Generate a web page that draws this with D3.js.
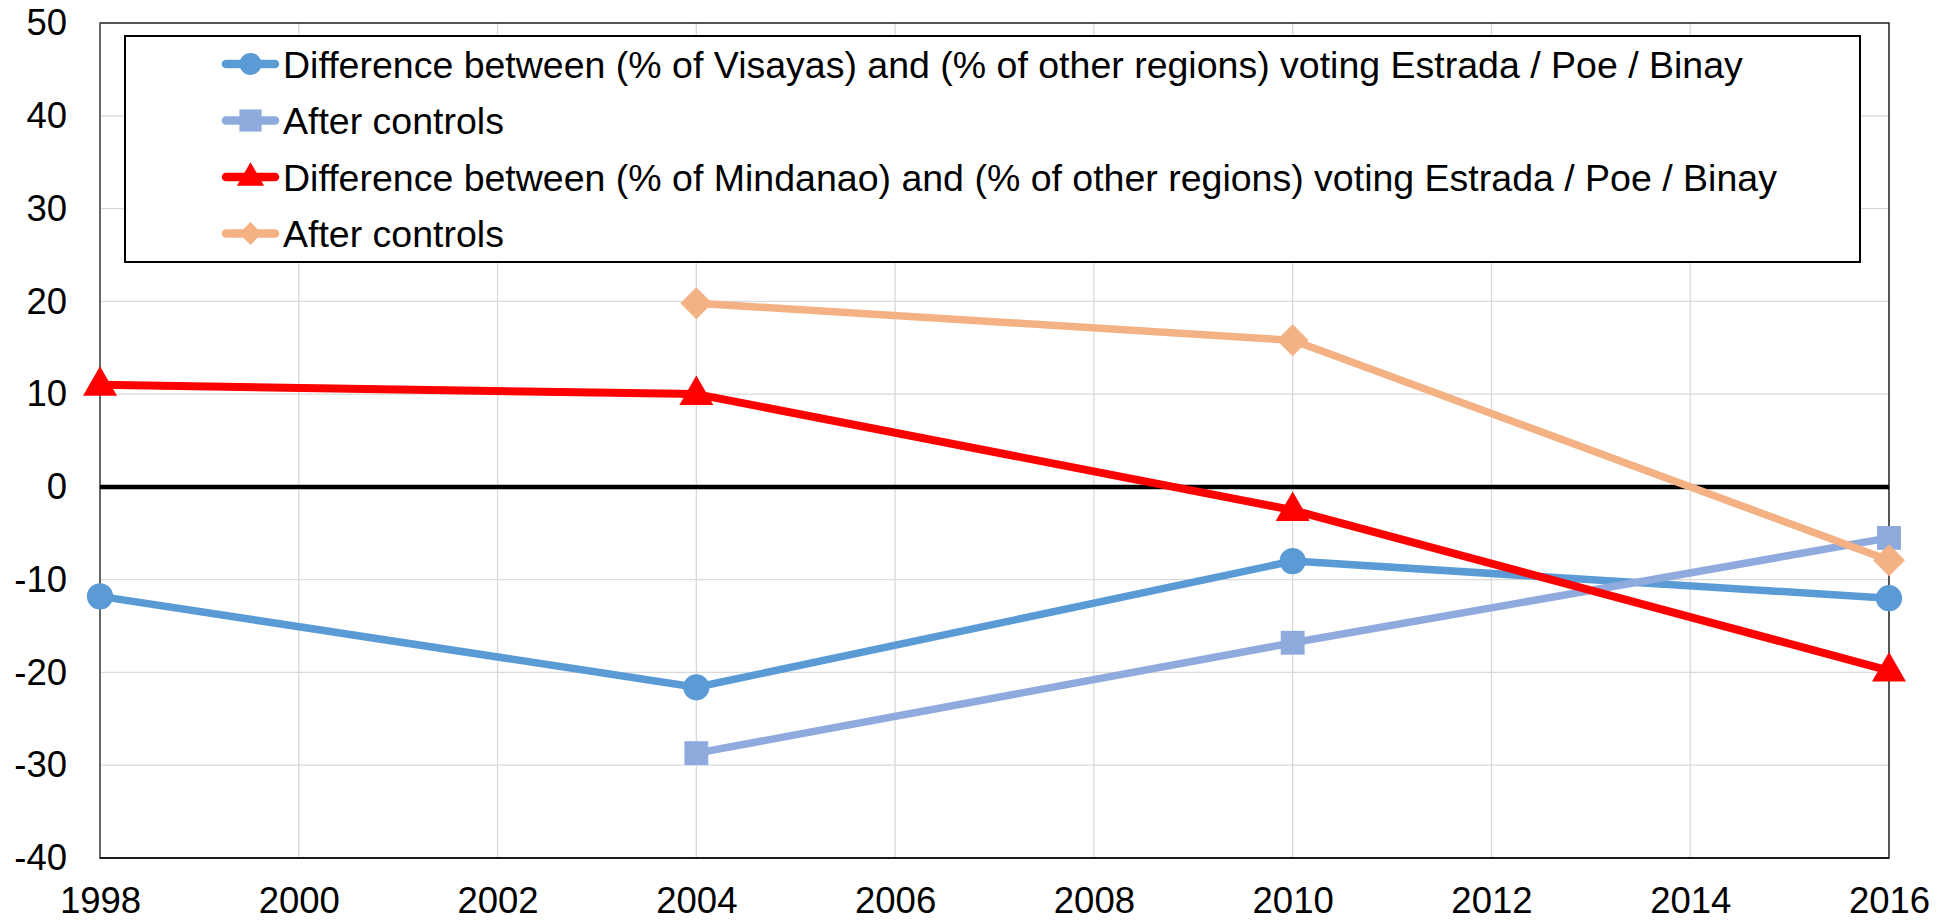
<!DOCTYPE html>
<html>
<head>
<meta charset="utf-8">
<script src="https://cdn.jsdelivr.net/npm/d3@7"></script>
<style>
  body{margin:0;background:#fff;}
  svg text{font-family:"Liberation Sans",Arial,sans-serif;fill:#000;}
</style>
</head>
<body>
<div id="chart"></div>
<script>
// values
var years=[1998,2004,2010,2016];
var visayas=[-11.8,-21.6,-8.0,-12.0];
var visayasControls=[null,-28.7,-16.8,-5.5];
var mindanao=[11.0,10.0,-2.5,-19.8];
var mindanaoControls=[null,19.8,15.8,-7.9];
var xTicks=[1998,2000,2002,2004,2006,2008,2010,2012,2014,2016];
var yTicks=[-40,-30,-20,-10,0,10,20,30,40,50];
var seriesNames=[
  "Difference between (% of Visayas) and (% of other regions) voting Estrada / Poe / Binay",
  "After controls",
  "Difference between (% of Mindanao) and (% of other regions) voting Estrada / Poe / Binay",
  "After controls"
];

var W=1951,H=921;
var margin={top:23,right:62,bottom:63,left:100};
var width=W-margin.left-margin.right;
var height=H-margin.top-margin.bottom;

var series=[
  {name:seriesNames[0],values:visayas,color:"#5B9BD5",marker:"circle"},
  {name:seriesNames[1],values:visayasControls,color:"#8FAADC",marker:"square"},
  {name:seriesNames[2],values:mindanao,color:"#FF0000",marker:"triangle"},
  {name:seriesNames[3],values:mindanaoControls,color:"#F4B183",marker:"diamond"}
];

var svg=d3.select("#chart").append("svg")
  .attr("width",W).attr("height",H);
var g=svg.append("g").attr("transform","translate("+margin.left+","+margin.top+")");

var x=d3.scaleLinear().domain([1998,2016]).range([0,width]);
var y=d3.scaleLinear().domain([-40,50]).range([height,0]);

// grid
g.selectAll(".hgrid").data(yTicks).enter().append("line")
  .attr("x1",0).attr("x2",width)
  .attr("y1",function(d){return y(d)}).attr("y2",function(d){return y(d)})
  .attr("stroke","#d9d9d9").attr("stroke-width",1.3);
g.selectAll(".vgrid").data(xTicks).enter().append("line")
  .attr("y1",0).attr("y2",height)
  .attr("x1",function(d){return x(d)}).attr("x2",function(d){return x(d)})
  .attr("stroke","#d9d9d9").attr("stroke-width",1.3);

// frame
g.append("rect").attr("x",0).attr("y",0).attr("width",width).attr("height",height)
  .attr("fill","none").attr("stroke","#262626").attr("stroke-width",1.5);
g.append("line").attr("x1",0).attr("x2",0).attr("y1",0).attr("y2",height)
  .attr("stroke","#666").attr("stroke-width",2);
g.append("line").attr("x1",0).attr("x2",width).attr("y1",height).attr("y2",height)
  .attr("stroke","#1a1a1a").attr("stroke-width",2);

// zero line
g.append("line").attr("x1",0).attr("x2",width).attr("y1",y(0)).attr("y2",y(0))
  .attr("stroke","#000").attr("stroke-width",4.5);

// axes labels (plain hyphen for negatives, like the original)
var fmt=function(d){return String(d)};
var yAxis=d3.axisLeft(y).tickValues(yTicks).tickSize(0).tickPadding(33).tickFormat(fmt);
var xAxis=d3.axisBottom(x).tickValues(xTicks).tickSize(0).tickPadding(29).tickFormat(fmt);
var ya=g.append("g").call(yAxis);
var xa=g.append("g").attr("transform","translate(0,"+height+")").call(xAxis);
[ya,xa].forEach(function(a){
  a.select(".domain").remove();
  a.selectAll("text").style("font-size","36.5px").attr("fill","#000");
});

function markerPath(type,s){
  var sym={circle:d3.symbolCircle,square:d3.symbolSquare,triangle:d3.symbolTriangle,diamond:d3.symbolSquare}[type];
  return d3.symbol().type(sym).size(s)();
}
var markerSize={circle:540,square:570,triangle:500,diamond:510};

var line=d3.line()
  .defined(function(d){return d.v!=null})
  .x(function(d){return x(d.yr)}).y(function(d){return y(d.v)});

series.forEach(function(s){
  var pts=years.map(function(yr,i){return {yr:yr,v:s.values[i]}});
  g.append("path").datum(pts)
    .attr("d",line).attr("fill","none")
    .attr("stroke",s.color).attr("stroke-width",s.marker=="triangle"?8:7.5)
    .attr("stroke-linejoin","round").attr("stroke-linecap","round");
  g.selectAll(null).data(pts.filter(function(d){return d.v!=null})).enter()
    .append("path")
    .attr("d",markerPath(s.marker,markerSize[s.marker]))
    .attr("fill",s.color)
    .attr("transform",function(d){
      var t="translate("+x(d.yr)+","+y(d.v)+")";
      if(s.marker=="diamond") t+=" rotate(45)";
      if(s.marker=="triangle") t+=" translate(0,1)";
      return t;
    });
});

// legend
var lg=svg.append("g");
lg.append("rect").attr("x",125).attr("y",36).attr("width",1735).attr("height",226)
  .attr("fill","#fff").attr("stroke","#000").attr("stroke-width",2);
var rowY=[64,120.5,177,233.5];
series.forEach(function(s,i){
  var r=lg.append("g").attr("transform","translate(0,"+rowY[i]+")");
  r.append("line").attr("x1",226).attr("x2",275).attr("y1",0).attr("y2",0)
    .attr("stroke",s.color).attr("stroke-width",8.5).attr("stroke-linecap","round");
  r.append("path").attr("d",markerPath(s.marker,{circle:380,square:490,triangle:320,diamond:260}[s.marker]))
    .attr("fill",s.color)
    .attr("transform","translate(250.5,"+(s.marker=="triangle"?1:0)+")"+(s.marker=="diamond"?" rotate(45)":""));
  r.append("text").attr("x",283).attr("y",0).attr("dy","0.36em")
    .style("font-size","37.5px").text(s.name);
});
</script>
</body>
</html>
